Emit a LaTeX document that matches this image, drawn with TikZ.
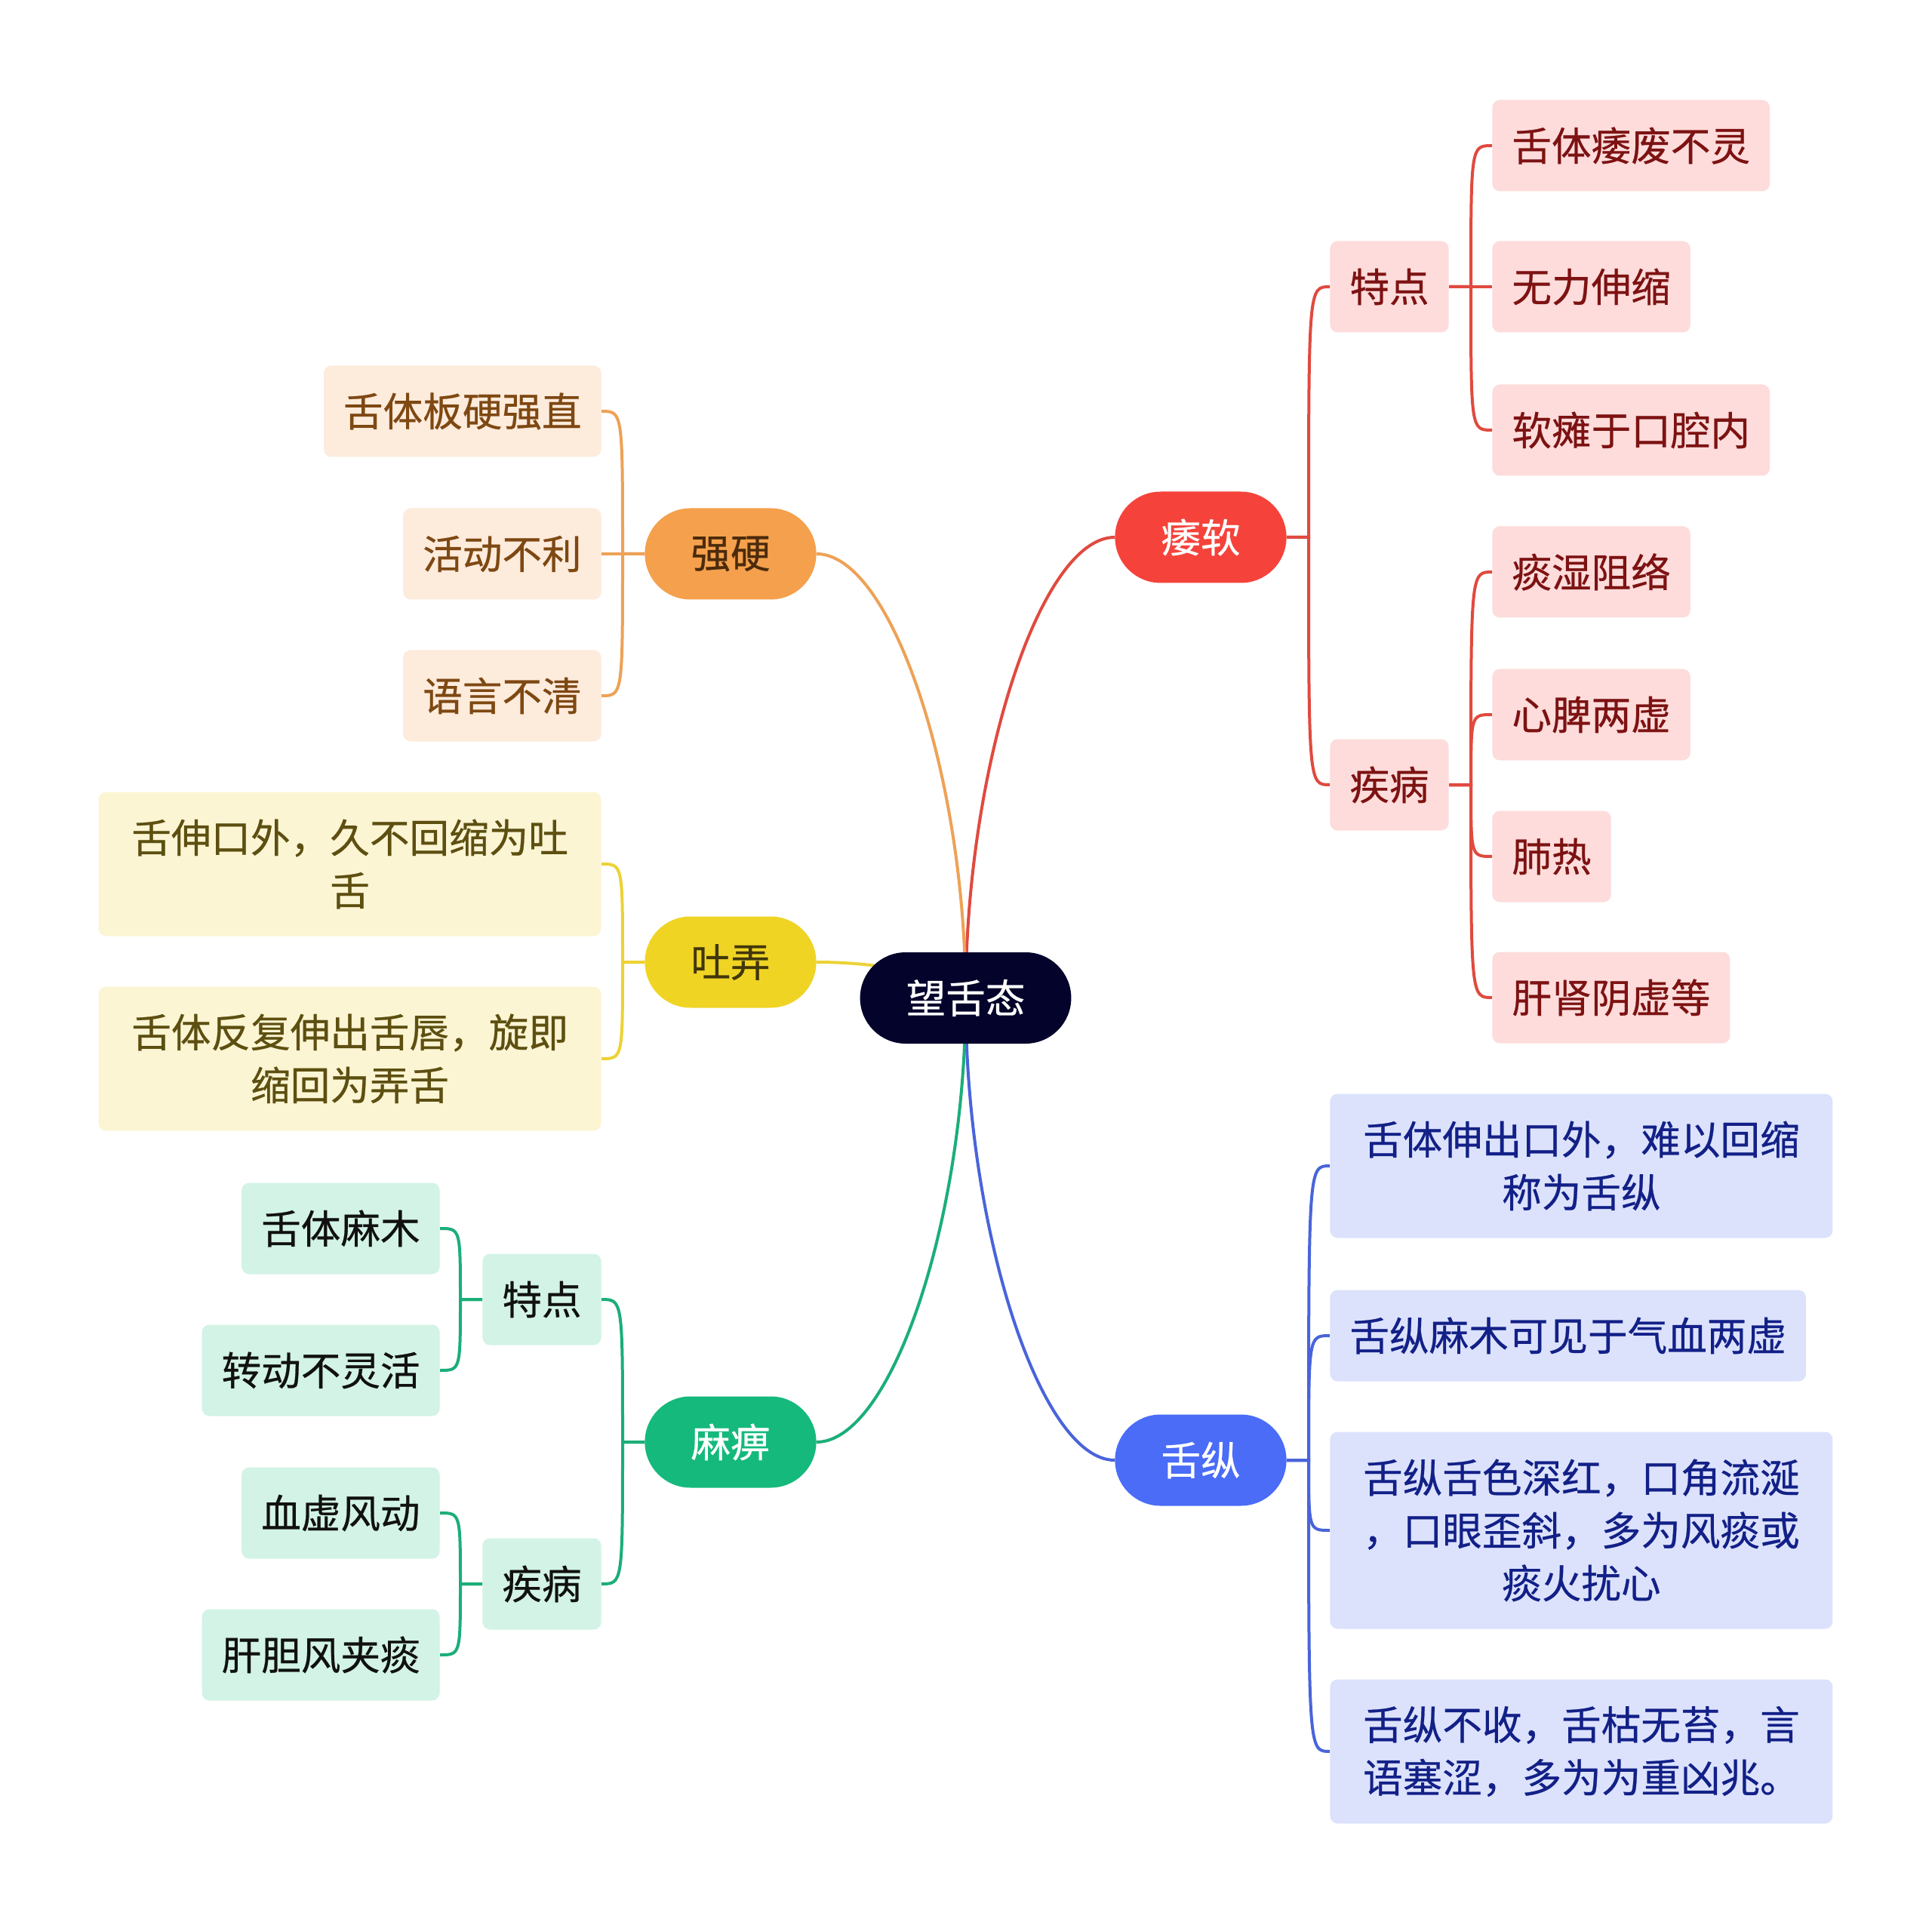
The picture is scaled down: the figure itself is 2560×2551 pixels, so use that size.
\documentclass[tikz,border=0pt]{standalone}
\usepackage{fontspec}
\setmainfont{Noto Sans CJK SC}[FakeBold=0.5]
\usetikzlibrary{calc,backgrounds}

\definecolor{rootc}{HTML}{03032B}
\definecolor{redfill}{HTML}{F5433B}
\definecolor{redline}{HTML}{E04A3F}
\definecolor{redpale}{HTML}{FDDCDB}
\definecolor{redtext}{HTML}{7D1212}
\definecolor{bluefill}{HTML}{4A6CF7}
\definecolor{blueline}{HTML}{4964DA}
\definecolor{bluepale}{HTML}{DCE2FC}
\definecolor{bluetext}{HTML}{122087}
\definecolor{orangefill}{HTML}{F5A04C}
\definecolor{orangeline}{HTML}{EDA257}
\definecolor{orangepale}{HTML}{FDEBDC}
\definecolor{orangetext}{HTML}{7E4812}
\definecolor{yellowfill}{HTML}{F0D424}
\definecolor{yellowline}{HTML}{ECD236}
\definecolor{yellowpale}{HTML}{FCF5D4}
\definecolor{yellowtext}{HTML}{5D4F10}
\definecolor{greenfill}{HTML}{15B97C}
\definecolor{greenline}{HTML}{1BAE78}
\definecolor{greenpale}{HTML}{D2F3E5}
\definecolor{greentext}{HTML}{111111}

\begin{document}
\begin{tikzpicture}[
  x=0.5pt, y=-0.5pt,
  font=\fontsize{26.3pt}{35pt}\selectfont,
  topic/.style={rectangle, rounded corners=30.25pt, minimum height=60.5pt,
                inner xsep=30.5pt, inner ysep=0pt, text=white},
  mainidea/.style={topic, fill=rootc},
  box/.style={rectangle, rounded corners=5pt, minimum height=60.5pt,
              inner xsep=13pt, inner ysep=0pt},
  wide/.style={box, text width=307pt, align=center},
  two/.style={wide, minimum height=95.5pt},
  three/.style={wide, minimum height=130.5pt},
  redbox/.style={box, fill=redpale, text=redtext},
  bluebox/.style={box, fill=bluepale, text=bluetext},
  orangebox/.style={box, fill=orangepale, text=orangetext},
  yellowbox/.style={box, fill=yellowpale, text=yellowtext},
  greenbox/.style={box, fill=greenpale, text=greentext},
  link/.style={line width=2pt},
]
\useasboundingbox (0,0) rectangle (2560,2551);

% ---- centre and main branches ----------------------------------------------
\node[mainidea] (centre) at (1279.5,1322.5) {望舌态};
\node[topic, fill=redfill]    (weiruan)   at (1591,712)  {痿软};
\node[topic, fill=bluefill]   (shezong)   at (1591,1935) {舌纵};
\node[topic, fill=orangefill, text=orangetext!60!black] (qiangying) at (968,734)  {强硬};
\node[topic, fill=yellowfill, text=yellowtext!70!black] (tunong)    at (968,1275) {吐弄};
\node[topic, fill=greenfill]  (mabi)      at (968,1911)  {麻痹};

% ---- 痿软 ------------------------------------------------------------------
\node[redbox, anchor=west] (wr-td) at (1762,380)  {特点};
\node[redbox, anchor=west] (wr-jb) at (1762,1040) {疾病};
\node[redbox, anchor=west] (wr-td-1) at (1977,193)  {舌体痿废不灵};
\node[redbox, anchor=west] (wr-td-2) at (1977,380)  {无力伸缩};
\node[redbox, anchor=west] (wr-td-3) at (1977,570)  {软瘫于口腔内};
\node[redbox, anchor=west] (wr-jb-1) at (1977,758)  {痰湿阻络};
\node[redbox, anchor=west] (wr-jb-2) at (1977,947)  {心脾两虚};
\node[redbox, anchor=west] (wr-jb-3) at (1977,1135) {肺热};
\node[redbox, anchor=west] (wr-jb-4) at (1977,1322) {肝肾阴虚等};

% ---- 舌纵 ------------------------------------------------------------------
\node[bluebox, two, anchor=west]   (sz-1) at (1762,1545) {舌体伸出口外，难以回缩\\称为舌纵};
\node[bluebox, anchor=west]        (sz-2) at (1762,1770) {舌纵麻木可见于气血两虚};
\node[bluebox, three, anchor=west] (sz-3) at (1762,2028)
     {舌纵舌色深红，口角流涎\\，口眼歪斜，多为风痰或\\痰火扰心};
\node[bluebox, two, anchor=west]   (sz-4) at (1762,2321)
     {舌纵不收，舌枯无苔，言\\语塞涩，多为为重凶兆。};

% ---- 强硬 and 吐弄 -----------------------------------------------------------
\node[orangebox, anchor=east] (qy-1) at (797,545) {舌体板硬强直};
\node[orangebox, anchor=east] (qy-2) at (797,734) {活动不利};
\node[orangebox, anchor=east] (qy-3) at (797,922) {语言不清};
\node[yellowbox, two, anchor=east] (tn-1) at (797,1145) {舌伸口外，久不回缩为吐\\舌};
\node[yellowbox, two, anchor=east] (tn-2) at (797,1403) {舌体反复伸出舌唇，旋即\\缩回为弄舌};

% ---- 麻痹 ------------------------------------------------------------------
\node[greenbox, anchor=east] (mb-td) at (797,1722) {特点};
\node[greenbox, anchor=east] (mb-jb) at (797,2099) {疾病};
\node[greenbox, anchor=east] (mb-td-1) at (583,1628) {舌体麻木};
\node[greenbox, anchor=east] (mb-td-2) at (583,1816) {转动不灵活};
\node[greenbox, anchor=east] (mb-jb-1) at (583,2005) {血虚风动};
\node[greenbox, anchor=east] (mb-jb-2) at (583,2193) {肝胆风夹痰};

% ---- connectors, kept behind the boxes ---------------------------------------
\begin{scope}[on background layer]
  \foreach \n/\a/\c in {weiruan/west/redline, shezong/west/blueline,
                        qiangying/east/orangeline, tunong/east/yellowline,
                        mabi/east/greenline} {
    \coordinate (m) at ($(centre.center)!.5!(\n.\a)$);
    \draw[link, \c] (centre.center) .. controls (centre.center |- m)
          and (m |- \n.\a) .. (\n.\a);
  }
  % right side: stub out of the parent, then bend into each child
  \foreach \p/\kids/\c in {weiruan/{wr-td,wr-jb}/redline,
                           wr-td/{wr-td-1,wr-td-2,wr-td-3}/redline,
                           wr-jb/{wr-jb-1,wr-jb-2,wr-jb-3,wr-jb-4}/redline,
                           shezong/{sz-1,sz-2,sz-3,sz-4}/blueline} {
    \coordinate (t) at ($(\p.east)+(29,0)$);
    \foreach \k in \kids
      \draw[link, \c] (\p.east) -- (t) .. controls (t |- \k.west) .. (\k.west);
  }
  % left side mirrors it
  \foreach \p/\kids/\c in {qiangying/{qy-1,qy-2,qy-3}/orangeline,
                           tunong/{tn-1,tn-2}/yellowline,
                           mabi/{mb-td,mb-jb}/greenline,
                           mb-td/{mb-td-1,mb-td-2}/greenline,
                           mb-jb/{mb-jb-1,mb-jb-2}/greenline} {
    \coordinate (t) at ($(\p.west)+(-29,0)$);
    \foreach \k in \kids
      \draw[link, \c] (\p.west) -- (t) .. controls (t |- \k.east) .. (\k.east);
  }
\end{scope}
\end{tikzpicture}
\end{document}
